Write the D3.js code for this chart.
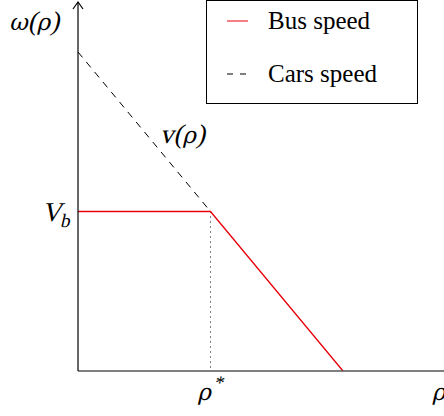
<!DOCTYPE html>
<html>
<head>
<meta charset="utf-8">
<script src="https://cdn.jsdelivr.net/npm/d3@7"></script>
<style>
  body { margin: 0; background: #fff; }
</style>
</head>
<body>
<div id="chart"></div>
<script>
// data
var busRho = [0, 0.5, 1];
var busSpeed = [0.5, 0.5, 0];
var carRho = [0, 0.5];
var carSpeed = [1, 0.5];
var rhoStar = 0.5;
var Vb = 0.5;
var legendLabels = ['Bus speed', 'Cars speed'];

var width = 444, height = 416;
var textFont = '"Liberation Serif", serif';
var greekFont = '"DejaVu Serif", serif';

var x = d3.scaleLinear().domain([0, 1]).range([78, 343]);
var y = d3.scaleLinear().domain([0, 1]).range([371, 52]);

var svg = d3.select('#chart')
  .append('svg')
  .attr('width', width)
  .attr('height', height);

var line = d3.line()
  .x(function(d){ return x(d[0]) })
  .y(function(d){ return y(d[1]) });

// dotted guide at rho*
svg.append('line')
  .attr('x1', x(rhoStar)).attr('x2', x(rhoStar))
  .attr('y1', y(Vb)).attr('y2', y(0))
  .attr('stroke', '#000')
  .attr('stroke-width', 1)
  .attr('stroke-dasharray', '1,4');

// cars speed (dashed)
svg.append('path')
  .datum(carRho.map(function(r, i){ return [r, carSpeed[i]] }))
  .attr('d', line)
  .attr('fill', 'none')
  .attr('stroke', '#000')
  .attr('stroke-width', 1)
  .attr('stroke-dasharray', '7,6');

// bus speed
svg.append('path')
  .datum(busRho.map(function(r, i){ return [r, busSpeed[i]] }))
  .attr('d', line)
  .attr('fill', 'none')
  .attr('stroke', '#e8000b')
  .attr('stroke-width', 1.3);

// axes
svg.append('line')
  .attr('x1', x(0)).attr('x2', width)
  .attr('y1', y(0)).attr('y2', y(0))
  .attr('stroke', '#555')
  .attr('stroke-width', 1.5);

svg.append('line')
  .attr('x1', x(0)).attr('x2', x(0))
  .attr('y1', y(0)).attr('y2', 2)
  .attr('stroke', '#000')
  .attr('stroke-width', 1.2);

svg.append('path')
  .attr('d', 'M' + (x(0) - 5) + ',9 L' + x(0) + ',2 L' + (x(0) + 5) + ',9')
  .attr('fill', 'none')
  .attr('stroke', '#000')
  .attr('stroke-width', 1.2);

// math labels: upright fonts slanted with skewX to look like math italic
// parts: [string, isGreek, extra]
function mathText(px, py, parts){
  var t = svg.append('text')
    .attr('transform', 'translate(' + px + ',' + py + ') skewX(-13)')
    .style('font-family', textFont)
    .style('font-size', '27px');
  parts.forEach(function(p){
    var s = t.append('tspan').text(p[0]);
    if (p[1]) s.style('font-family', greekFont).style('font-size', '23px');
    if (p[2] === 'sub') s.attr('dy', 6).style('font-size', '19px');
    if (p[2] === 'sup') s.attr('dy', -11).style('font-size', '19px');
  });
  return t;
}

mathText(9, 30, [['ω', true], ['(', false], ['ρ', true], [')', false]]);
mathText(42, y(Vb) + 9, [['V', false], ['b', false, 'sub']]);
mathText(160, 143, [['v', false], ['(', false], ['ρ', true], [')', false]]);
mathText(x(rhoStar) - 13, 400, [['ρ', true], ['*', false, 'sup']]);
mathText(432, 400, [['ρ', true]]);

// legend
var legend = svg.append('g');
legend.append('rect')
  .attr('x', 206.5).attr('y', 0.5)
  .attr('width', 211).attr('height', 103)
  .attr('fill', '#fff')
  .attr('stroke', '#000')
  .attr('stroke-width', 1);

legend.append('line')
  .attr('x1', 227).attr('x2', 248).attr('y1', 21).attr('y2', 21)
  .attr('stroke', '#e8000b').attr('stroke-width', 1);
legend.append('line')
  .attr('x1', 227).attr('x2', 249).attr('y1', 74).attr('y2', 74)
  .attr('stroke', '#000').attr('stroke-width', 1)
  .attr('stroke-dasharray', '6,7');

legend.selectAll('.lbl')
  .data(legendLabels)
  .enter().append('text')
  .attr('class', 'lbl')
  .attr('x', 268)
  .attr('y', function(d, i){ return 29 + i * 53 })
  .style('font-family', textFont)
  .style('font-size', '25px')
  .text(function(d){ return d });
</script>
</body>
</html>
